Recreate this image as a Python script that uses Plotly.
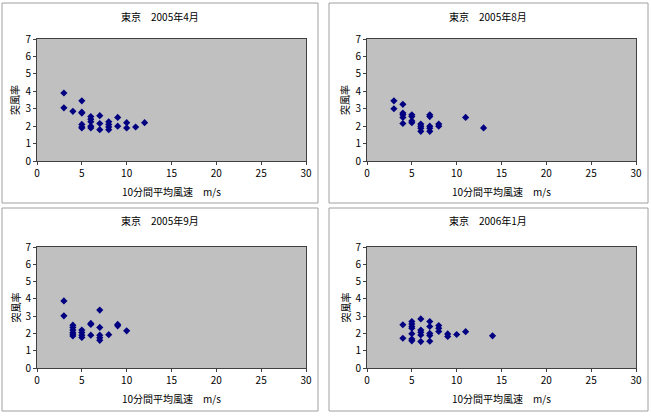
import plotly.graph_objects as go

titles = ["東京　2005年4月", "東京　2005年8月", "東京　2005年9月", "東京　2006年1月"]
x_title = "10分間平均風速　m/s"
y_title = "突風率"

apr_x = [3, 3, 4, 5, 5, 5, 5, 5, 5, 6, 6, 6, 6, 6, 7, 7, 7, 8, 8, 8, 8, 9, 9, 10, 10, 11, 12]
apr_y = [3.9, 3.05, 2.85, 3.45, 2.8, 2.75, 2.1, 1.95, 1.9, 2.55, 2.4, 2.25, 2.0, 1.9, 2.6, 2.15, 1.8,
         2.25, 2.1, 1.95, 1.8, 2.5, 2.0, 2.2, 1.9, 1.95, 2.2]

aug_x = [3, 3, 4, 4, 4, 4, 4, 5, 5, 5, 5, 6, 6, 6, 6, 7, 7, 7, 7, 7, 8, 8, 11, 13]
aug_y = [3.45, 3.0, 3.25, 2.75, 2.65, 2.5, 2.15, 2.65, 2.55, 2.3, 2.2, 2.12, 2.0, 1.88, 1.7,
         2.65, 2.55, 2.0, 1.88, 1.7, 2.12, 2.0, 2.5, 1.9]

sep_x = [3, 3, 4, 4, 4, 4, 4, 4, 5, 5, 5, 5, 6, 6, 6, 7, 7, 7, 7, 7, 8, 9, 9, 10]
sep_y = [3.88, 3.02, 2.48, 2.35, 2.2, 2.05, 1.95, 1.85, 2.2, 2.05, 1.9, 1.77, 2.58, 2.52, 1.9,
         3.35, 2.35, 1.9, 1.75, 1.6, 1.93, 2.52, 2.44, 2.15]

jan_x = [4, 4, 5, 5, 5, 5, 5, 5, 5, 6, 6, 6, 6, 6, 7, 7, 7, 7, 7, 8, 8, 8, 9, 9, 10, 11, 14]
jan_y = [2.5, 1.72, 2.69, 2.55, 2.4, 2.3, 1.98, 1.68, 1.57, 2.84, 2.2, 2.07, 1.91, 1.53,
         2.69, 2.4, 2.0, 1.88, 1.55, 2.46, 2.3, 2.11, 1.97, 1.82, 1.94, 2.1, 1.86]

series = [(apr_x, apr_y), (aug_x, aug_y), (sep_x, sep_y), (jan_x, jan_y)]

W, H = 651, 419
# plot areas in pixels: (left, right, top, bottom)
areas = [(37, 306, 39, 161), (367, 636, 39, 161), (37, 306, 247, 368), (367, 636, 247, 368)]
boxes = [(2, 318, 3, 203), (329, 648, 3, 203), (2, 318, 208, 411), (329, 648, 208, 411)]

font = "Noto Sans CJK JP, sans-serif"
fig = go.Figure()
layout = dict(width=W, height=H, margin=dict(l=0, r=0, t=0, b=0, autoexpand=False),
              paper_bgcolor="white", plot_bgcolor="#c0c0c0", showlegend=False,
              font=dict(family=font, size=10, color="black"))
annotations = []
shapes = []
for i, ((xs, ys), (l, r, t, b), (bl, br, bt, bb), title) in enumerate(zip(series, areas, boxes, titles)):
    n = "" if i == 0 else str(i + 1)
    fig.add_trace(go.Scatter(x=xs, y=ys, mode="markers", xaxis="x" + n, yaxis="y" + n,
                             marker=dict(symbol="diamond", size=5.5, color="#000080",
                                         line=dict(width=0))))
    layout["xaxis" + n] = dict(domain=[l / W, r / W], anchor="y" + n, range=[0, 30],
                               tickvals=[0, 5, 10, 15, 20, 25, 30], showgrid=False, zeroline=False,
                               showline=True, linecolor="#404040", linewidth=1, mirror=True,
                               ticks="outside", ticklen=3, tickcolor="#404040", automargin=False,
                               tickfont=dict(size=10, family=font))
    layout["yaxis" + n] = dict(domain=[1 - b / H, 1 - t / H], anchor="x" + n, range=[0, 7],
                               tickvals=list(range(8)), showgrid=False, zeroline=False,
                               showline=True, linecolor="#404040", linewidth=1, mirror=True,
                               ticks="outside", ticklen=3, tickcolor="#404040", automargin=False,
                               tickfont=dict(size=10, family=font))
    shapes.append(dict(type="rect", xref="paper", yref="paper", x0=bl / W, x1=br / W,
                       y0=1 - bb / H, y1=1 - bt / H, line=dict(color="#a0a0a0", width=1)))
    annotations.append(dict(text=title, x=(bl + br) / 2 / W, y=1 - (bt + 13) / H, xref="paper",
                            yref="paper", showarrow=False, xanchor="center", yanchor="middle",
                            font=dict(size=10, family=font)))
    annotations.append(dict(text=x_title, x=(l + r) / 2 / W, y=1 - (b + 30) / H, xref="paper",
                            yref="paper", showarrow=False, xanchor="center", yanchor="middle",
                            font=dict(size=10, family=font)))
    annotations.append(dict(text=y_title, x=(l - 22) / W, y=1 - (t + b) / 2 / H, xref="paper",
                            yref="paper", showarrow=False, textangle=-90, xanchor="center",
                            yanchor="middle", font=dict(size=10, family=font)))
layout["annotations"] = annotations
layout["shapes"] = shapes
fig.update_layout(**layout)
fig.write_html("out.html")
